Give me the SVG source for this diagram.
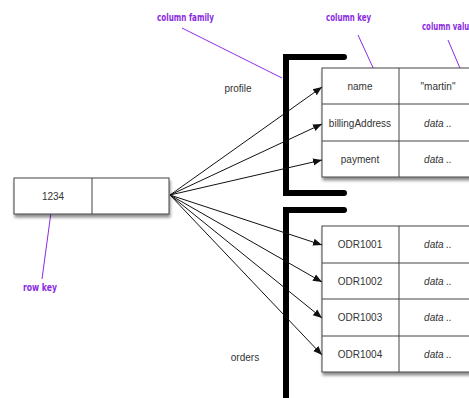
<svg xmlns="http://www.w3.org/2000/svg" width="469" height="398" viewBox="0 0 469 398">
<defs>
<marker id="ah" viewBox="0 0 10 10" refX="10" refY="5" markerWidth="9" markerHeight="9" markerUnits="userSpaceOnUse" orient="auto">
<path d="M0,1 L10,5 L0,9 z" fill="#111"/>
</marker>
<filter id="sh" x="-10%" y="-10%" width="130%" height="140%">
<feDropShadow dx="1" dy="3" stdDeviation="1.8" flood-color="#000" flood-opacity="0.45"/>
</filter>
<style>
.cell{fill:#fff;stroke:#444;stroke-width:1}
.t{font-family:"Liberation Sans",Arial,sans-serif;font-size:10px;fill:#333;text-anchor:middle}
.i{font-style:italic}
.br{fill:none;stroke:#000;stroke-width:6;stroke-linecap:round;stroke-linejoin:miter}
.ann{font-family:"DejaVu Sans Condensed","DejaVu Sans",sans-serif;font-weight:bold;font-size:11px;fill:#8a2be2}
.al{stroke:#8a2be2;stroke-width:1;fill:none}
.c{stroke:#111;stroke-width:1;fill:none}
</style>
</defs>
<rect width="469" height="398" fill="#fff"/>

<g id="annotations">
<text class="ann" x="157" y="21" textLength="57" lengthAdjust="spacingAndGlyphs">column family</text>
<line class="al" x1="182" y1="28" x2="282" y2="78"/>
<text class="ann" x="326" y="21" textLength="45" lengthAdjust="spacingAndGlyphs">column key</text>
<line class="al" x1="358" y1="35" x2="375" y2="72"/>
<text class="ann" x="422" y="30" textLength="52" lengthAdjust="spacingAndGlyphs">column value</text>
<line class="al" x1="448" y1="40" x2="465" y2="80"/>
<text class="ann" x="23" y="291" textLength="34" lengthAdjust="spacingAndGlyphs">row key</text>
<line class="al" x1="52" y1="205" x2="42" y2="279"/>
</g>

<g id="rowkey">
<g filter="url(#sh)">
<rect class="cell" x="14" y="178" width="155" height="36"/>
</g>
<line x1="92" y1="178" x2="92" y2="214" stroke="#444"/>
<text class="t" x="53" y="200">1234</text>
</g>

<g id="profile">
<path class="br" d="M344,57 H286 V193 H344"/>
<text class="t" x="238" y="92">profile</text>
<g filter="url(#sh)">
<rect class="cell" x="322" y="68" width="170" height="109"/>
</g>
<line x1="322" y1="104" x2="492" y2="104" stroke="#444"/>
<line x1="322" y1="141" x2="492" y2="141" stroke="#444"/>
<line x1="399" y1="68" x2="399" y2="177" stroke="#444"/>
<text class="t" x="360" y="90">name</text>
<text class="t" x="438" y="90">"martin"</text>
<text class="t" x="360" y="127">billingAddress</text>
<text class="t i" x="438" y="127">data ..</text>
<text class="t" x="360" y="163">payment</text>
<text class="t i" x="438" y="163">data ..</text>
</g>

<g id="orders">
<path class="br" d="M344,210 H286 V400"/>
<text class="t" x="245" y="361">orders</text>
<g filter="url(#sh)">
<rect class="cell" x="322" y="226" width="170" height="146"/>
</g>
<line x1="322" y1="263" x2="492" y2="263" stroke="#444"/>
<line x1="322" y1="299" x2="492" y2="299" stroke="#444"/>
<line x1="322" y1="336" x2="492" y2="336" stroke="#444"/>
<line x1="399" y1="226" x2="399" y2="372" stroke="#444"/>
<text class="t" x="360" y="248">ODR1001</text>
<text class="t i" x="438" y="248">data ..</text>
<text class="t" x="360" y="285">ODR1002</text>
<text class="t i" x="438" y="285">data ..</text>
<text class="t" x="360" y="321">ODR1003</text>
<text class="t i" x="438" y="321">data ..</text>
<text class="t" x="360" y="358">ODR1004</text>
<text class="t i" x="438" y="358">data ..</text>
</g>

<g id="connectors">
<line class="c" x1="170" y1="195" x2="322" y2="87" marker-end="url(#ah)"/>
<line class="c" x1="170" y1="195" x2="322" y2="124" marker-end="url(#ah)"/>
<line class="c" x1="170" y1="195" x2="322" y2="160" marker-end="url(#ah)"/>
<line class="c" x1="170" y1="195" x2="322" y2="245" marker-end="url(#ah)"/>
<line class="c" x1="170" y1="195" x2="322" y2="282" marker-end="url(#ah)"/>
<line class="c" x1="170" y1="195" x2="322" y2="318" marker-end="url(#ah)"/>
<line class="c" x1="170" y1="195" x2="322" y2="355" marker-end="url(#ah)"/>
</g>
</svg>
